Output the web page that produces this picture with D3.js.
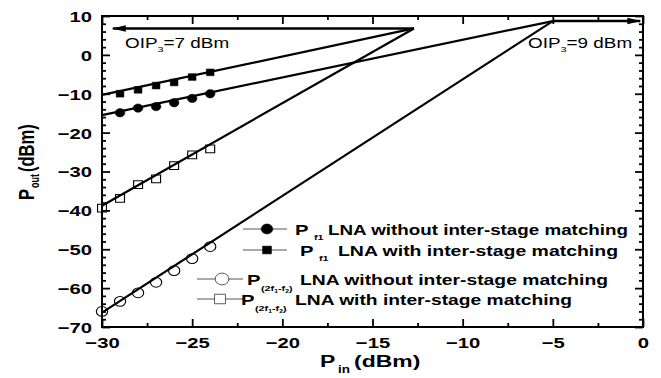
<!DOCTYPE html>
<html><head><meta charset="utf-8">
<script src="https://cdn.jsdelivr.net/npm/d3@7"></script>
<style>
body{margin:0;background:#fff;}
svg{display:block;font-family:"Liberation Sans",Arial,sans-serif;}
</style></head>
<body><svg id="c" width="661" height="378"></svg>
<script>
// ---- data ----
const pinFund = [-29, -28, -27, -26, -25, -24];
const pf1Without = [-14.9, -13.7, -13.3, -12.3, -11.2, -10.0];
const pf1With = [-10.0, -9.0, -7.9, -7.1, -5.7, -4.5];
const pinIm3 = [-30, -29, -28, -27, -26, -25, -24];
const im3Without = [-66.0, -63.4, -61.2, -58.5, -55.5, -52.4, -49.3];
const im3With = [-39.4, -36.9, -33.4, -31.9, -28.5, -25.7, -24.2];
// fitted lines: [start Pin, start Pout] -> intercept point
const fitStartPin = -30;
const fitStartWithout = -15.5, fitStartWith = -10.3;
const fitStartIm3Without = -66.3, fitStartIm3With = -38.8;
const oipWithoutPin = -5.0, oipWithout = 8.7;   // OIP3 = 9 dBm
const oipWithPin = -12.7, oipWith = 6.8;        // OIP3 = 7 dBm
const xMajor = [-30, -25, -20, -15, -10, -5, 0];
const yMajor = [10, 0, -10, -20, -30, -40, -50, -60, -70];
const legendLabels = ["LNA without inter-stage matching", "LNA with inter-stage matching",
                      "LNA without inter-stage matching", "LNA with inter-stage matching"];

const SX = 1.35; // horizontal stretch of the reference text
const svg = d3.select("#c");
const x = d3.scaleLinear([-30, 0], [102, 643]);
const y = d3.scaleLinear([-70, 10], [327, 16]);
const X0 = x(-30), X1 = x(0), Y0 = y(-70), Y1 = y(10);

const xMinor = d3.range(-30, 0.01, 2.5).filter(v => !xMajor.includes(v));
const yMinor = d3.range(-70, 10.01, 2).filter(v => v % 10 !== 0);

function styleAxis(g){ g.select(".domain").remove(); g.selectAll("line").attr("stroke","#000").attr("stroke-width",1.8); }

// minor ticks
svg.append("g").attr("transform",`translate(0,${Y0})`).call(d3.axisBottom(x).tickValues(xMinor).tickSizeInner(-4).tickFormat("")).call(styleAxis);
svg.append("g").attr("transform",`translate(0,${Y1})`).call(d3.axisTop(x).tickValues(xMinor).tickSizeInner(-4).tickFormat("")).call(styleAxis);
svg.append("g").attr("transform",`translate(${X0},0)`).call(d3.axisLeft(y).tickValues(yMinor).tickSizeInner(-4).tickFormat("")).call(styleAxis);
svg.append("g").attr("transform",`translate(${X1},0)`).call(d3.axisRight(y).tickValues(yMinor).tickSizeInner(-4).tickFormat("")).call(styleAxis);
// major ticks
const gb = svg.append("g").attr("transform",`translate(0,${Y0})`).call(d3.axisBottom(x).tickValues(xMajor).tickSizeInner(-8).tickSizeOuter(0).tickPadding(10).tickFormat(d3.format("d"))).call(styleAxis);
svg.append("g").attr("transform",`translate(0,${Y1})`).call(d3.axisTop(x).tickValues(xMajor).tickSizeInner(-8).tickFormat("")).call(styleAxis);
const gl = svg.append("g").attr("transform",`translate(${X0},0)`).call(d3.axisLeft(y).tickValues(yMajor).tickSizeInner(-8).tickSizeOuter(0).tickPadding(10).tickFormat(d3.format("d"))).call(styleAxis);
svg.append("g").attr("transform",`translate(${X1},0)`).call(d3.axisRight(y).tickValues(yMajor).tickSizeInner(-8).tickFormat("")).call(styleAxis);
gb.selectAll("text").attr("font-size",15).attr("font-weight","bold").attr("fill","#000").attr("font-family",null)
  .attr("y",21).attr("dy",null).attr("transform",`scale(${SX},1)`);
gl.selectAll("text").attr("font-size",15).attr("font-weight","bold").attr("fill","#000").attr("font-family",null)
  .attr("x",-10/SX).attr("dy","0.36em").attr("transform",`scale(${SX},1)`);

// frame
svg.append("rect").attr("x",X0).attr("y",Y1).attr("width",X1-X0).attr("height",Y0-Y1)
  .attr("fill","none").attr("stroke","#000").attr("stroke-width",2);

// fitted lines
const line = d3.line().x(d=>x(d[0])).y(d=>y(d[1]));
const fits = [
  [[fitStartPin, fitStartWithout],[oipWithoutPin, oipWithout]],
  [[fitStartPin, fitStartWith],[oipWithPin, oipWith]],
  [[fitStartPin, fitStartIm3Without],[oipWithoutPin, oipWithout]],
  [[fitStartPin, fitStartIm3With],[oipWithPin, oipWith]]
];
svg.append("g").selectAll("path").data(fits).join("path").attr("d",line)
  .attr("fill","none").attr("stroke","#000").attr("stroke-width",2.2);

// arrows
const defs = svg.append("defs");
defs.append("marker").attr("id","ah").attr("viewBox","0 0 14 8").attr("refX",13).attr("refY",4)
  .attr("markerWidth",14).attr("markerHeight",8).attr("markerUnits","userSpaceOnUse").attr("orient","auto")
  .append("path").attr("d","M0,0.8 L14,4 L0,7.2 Z").attr("fill","#000");
svg.append("path").attr("d",line([[oipWithPin, oipWith],[-29.4, oipWith]]))
  .attr("stroke","#000").attr("stroke-width",2.5).attr("marker-end","url(#ah)");
svg.append("path").attr("d",line([[oipWithoutPin, oipWithout],[-0.15, oipWithout]]))
  .attr("stroke","#000").attr("stroke-width",2.5).attr("marker-end","url(#ah)");

// markers
const sym = (type,size)=>d3.symbol().type(type).size(size)();
function drawMarkers(xs, ys, type, size, filled){
  svg.append("g").selectAll("path").data(xs.map((v,i)=>[v,ys[i]])).join("path")
    .attr("transform",d=>`translate(${x(d[0])},${y(d[1])}) scale(1.15,1)`)
    .attr("d",sym(type,size))
    .attr("fill",filled?"#000":"none").attr("stroke","#000").attr("stroke-width",filled?0.5:1);
}
drawMarkers(pinFund, pf1Without, d3.symbolCircle, 55, true);
drawMarkers(pinFund, pf1With, d3.symbolSquare, 45, true);
drawMarkers(pinIm3, im3Without, d3.symbolCircle, 75, false);
drawMarkers(pinIm3, im3With, d3.symbolSquare, 60, false);

// stretched text helper
function stext(g, xx, yy, fs, weight, anchor){
  return g.append("text").attr("transform",`translate(${xx},${yy}) scale(${SX},1)`)
    .attr("font-size",fs).attr("font-weight",weight).attr("text-anchor",anchor||"start").attr("fill","#000");
}

// OIP annotations
function oipLabel(xx, yy, val){
  const t = stext(svg, xx, yy, 14, "normal");
  t.append("tspan").text("OIP");
  t.append("tspan").attr("font-size",8).attr("dy",4).text("3");
  t.append("tspan").attr("dy",-4).text("=" + val + " dBm");
}
oipLabel(125, 48, 7);
oipLabel(528, 48, 9);

// legend
const lg = svg.append("g");
const legendRows = [
  {y:229, x1:243, x2:287, mx:267, type:d3.symbolCircle, size:80, filled:true, px:295, sub:"f1", tx:328, tw:300},
  {y:250, x1:243, x2:287, mx:267, type:d3.symbolSquare, size:60, filled:true, px:300, sub:"f1", tx:338, tw:280},
  {y:279, x1:197, x2:243, mx:222, type:d3.symbolCircle, size:110, filled:false, px:247, sub:"im", tx:300, tw:308},
  {y:299, x1:197, x2:243, mx:220, type:d3.symbolSquare, size:90, filled:false, px:241, sub:"im", tx:295, tw:277}
];
legendRows.forEach((r,i)=>{
  lg.append("line").attr("x1",r.x1).attr("x2",r.x2).attr("y1",r.y).attr("y2",r.y)
    .attr("stroke","#555").attr("stroke-width",1);
  lg.append("path").attr("transform",`translate(${r.mx},${r.y}) scale(1.15,1)`).attr("d",sym(r.type,r.size))
    .attr("fill",r.filled?"#000":"#fff").attr("stroke",r.filled?"#000":"#444").attr("stroke-width",r.filled?0.5:0.8);
  const base = r.y + 6;
  stext(lg, r.px, base, 15, "bold").text("P");
  if(r.sub === "f1"){
    stext(lg, r.px + 19, base + 5, 8, "bold").text("f1");
  } else {
    const t = stext(lg, r.px + 14, base + 6, 8, "bold");
    t.append("tspan").text("(2f");
    t.append("tspan").attr("font-size",5).attr("dy",2).text("1");
    t.append("tspan").attr("dy",-2).text("-f");
    t.append("tspan").attr("font-size",5).attr("dy",2).text("2");
    t.append("tspan").attr("dy",-2).text(")");
  }
  lg.append("text").attr("x",r.tx).attr("y",base).attr("font-size",15).attr("font-weight","bold")
    .attr("textLength",r.tw).attr("lengthAdjust","spacingAndGlyphs").text(legendLabels[i]);
});

// axis titles
const xt = stext(svg, 320, 367, 17, "bold");
xt.append("tspan").text("P");
xt.append("tspan").attr("font-size",10).attr("dy",6).attr("dx",2).text("in");
xt.append("tspan").attr("dy",-6).attr("dx",3).text("(dBm)");

const yt = svg.append("text").attr("transform",`translate(34,200) rotate(-90) scale(1,${SX})`)
  .attr("font-size",16.5).attr("font-weight","bold").attr("fill","#000");
yt.append("tspan").text("P");
yt.append("tspan").attr("font-size",9).attr("dy",4).attr("dx",1).text("out");
yt.append("tspan").attr("dy",-4).attr("dx",2).text("(dBm)");
</script></body></html>
